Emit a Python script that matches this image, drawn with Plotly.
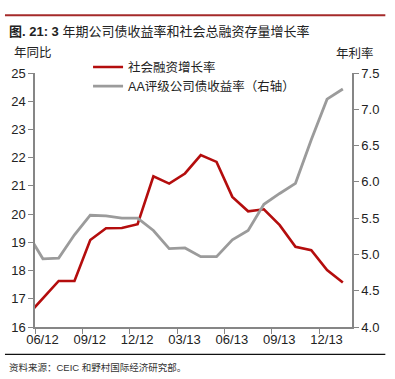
import plotly.graph_objects as go

# Month labels (first entry 05/12 lies just left of the visible range)
months = ["05/12", "06/12", "07/12", "08/12", "09/12", "10/12", "11/12", "12/12",
          "01/13", "02/13", "03/13", "04/13", "05/13", "06/13", "07/13", "08/13",
          "09/13", "10/13", "11/13", "12/13", "01/14"]
social_financing = [16.40, 17.03, 17.63, 17.63, 19.08, 19.50, 19.51, 19.64, 21.34, 21.08,
                    21.44, 22.09, 21.85, 20.61, 20.10, 20.17, 19.61, 18.84, 18.72, 18.02, 17.58]
aa_yield = [5.30, 4.94, 4.95, 5.27, 5.54, 5.53, 5.50, 5.50, 5.33, 5.08,
            5.09, 4.97, 4.97, 5.20, 5.33, 5.69, 5.84, 5.98, 6.58, 7.14, 7.28]
tick_labels = ["06/12", "09/12", "12/12", "03/13", "06/13", "09/13", "12/13"]

# month-centre positions (06/12 month starts at 0)
xpos = [i - 0.5 for i in range(len(months))]
tick_pos = [3 * i + 0.47 for i in range(len(tick_labels))]

RED = "#B40D0D"
GRAY = "#9B9B9B"
AXIS = "#868686"
FONT = "Liberation Sans, Arial, Noto Sans CJK SC, sans-serif"

fig = go.Figure()
fig.add_trace(go.Scatter(x=xpos, y=social_financing, mode="lines", name="社会融资增长率",
                         line=dict(color=RED, width=2.6), yaxis="y"))
fig.add_trace(go.Scatter(x=xpos, y=aa_yield, mode="lines", name="AA评级公司债收益率（右轴）",
                         line=dict(color=GRAY, width=2.8), yaxis="y2"))

W, H = 395, 379
ml, mr, mt, mb = 35, 43.3, 72.7, 52
pw = W - ml - mr
ph = H - mt - mb

def px(xp):
    return (xp - ml) / pw

def py(yp):
    return (H - mb - yp) / ph

fig.update_layout(
    width=W, height=H,
    margin=dict(l=ml, r=mr, t=mt, b=mb, pad=0, autoexpand=False),
    paper_bgcolor="white", plot_bgcolor="white",
    font=dict(family=FONT, size=13, color="#222222"),
    showlegend=True,
    legend=dict(x=px(88), y=py(52), xanchor="left", yanchor="top",
                bgcolor="rgba(0,0,0,0)", borderwidth=0,
                font=dict(family=FONT, size=12.5, color="#222222"),
                tracegroupgap=0, itemwidth=30),
    xaxis=dict(range=[0, 20.08], showline=True, linecolor=AXIS, linewidth=1.5,
               tickvals=tick_pos, ticktext=tick_labels, ticks="", showgrid=False,
               zeroline=False, tickfont=dict(size=13, color="#222222"),
               minor=dict(ticks="outside", tick0=0, dtick=3, ticklen=5,
                          tickcolor=AXIS, tickwidth=1.2, showgrid=False)),
    yaxis=dict(range=[16, 25], dtick=1, showline=True, linecolor=AXIS, linewidth=1.5,
               ticks="outside", ticklen=5, tickcolor=AXIS, tickwidth=1.2,
               showgrid=False, zeroline=False, tickfont=dict(size=13, color="#222222")),
    yaxis2=dict(range=[4, 7.5], dtick=0.5, tickformat=".1f", overlaying="y", side="right",
                showline=True, linecolor=AXIS, linewidth=1.5,
                ticks="outside", ticklen=5, tickcolor=AXIS, tickwidth=1.2,
                showgrid=False, zeroline=False, tickfont=dict(size=13, color="#222222")),
    shapes=[
        dict(type="line", xref="paper", yref="paper", x0=px(5), x1=px(385), y0=py(15), y1=py(15),
             line=dict(color="#A52A2A", width=2)),
        dict(type="line", xref="paper", yref="paper", x0=px(5), x1=px(385), y0=py(354.5), y1=py(354.5),
             line=dict(color="#111111", width=1.3)),
    ],
    annotations=[
        dict(text="<b>图. 21: 3</b> 年期公司债收益率和社会总融资存量增长率", xref="paper", yref="paper",
             x=px(7), y=py(31), xanchor="left", yanchor="middle", showarrow=False,
             font=dict(family=FONT, size=13, color="#222222")),
        dict(text="年同比", xref="paper", yref="paper", x=px(12), y=py(53), xanchor="left",
             yanchor="middle", showarrow=False, font=dict(size=12.5, color="#222222")),
        dict(text="年利率", xref="paper", yref="paper", x=px(376), y=py(53), xanchor="right",
             yanchor="middle", showarrow=False, font=dict(size=12.5, color="#222222")),
        dict(text="资料来源：CEIC 和野村国际经济研究部。", xref="paper", yref="paper",
             x=px(7), y=py(368), xanchor="left", yanchor="middle", showarrow=False,
             font=dict(size=9.5, color="#333333")),
    ],
)

fig.write_html("out.html", config={"displayModeBar": False},
               post_script="document.body.style.margin='0px';")
